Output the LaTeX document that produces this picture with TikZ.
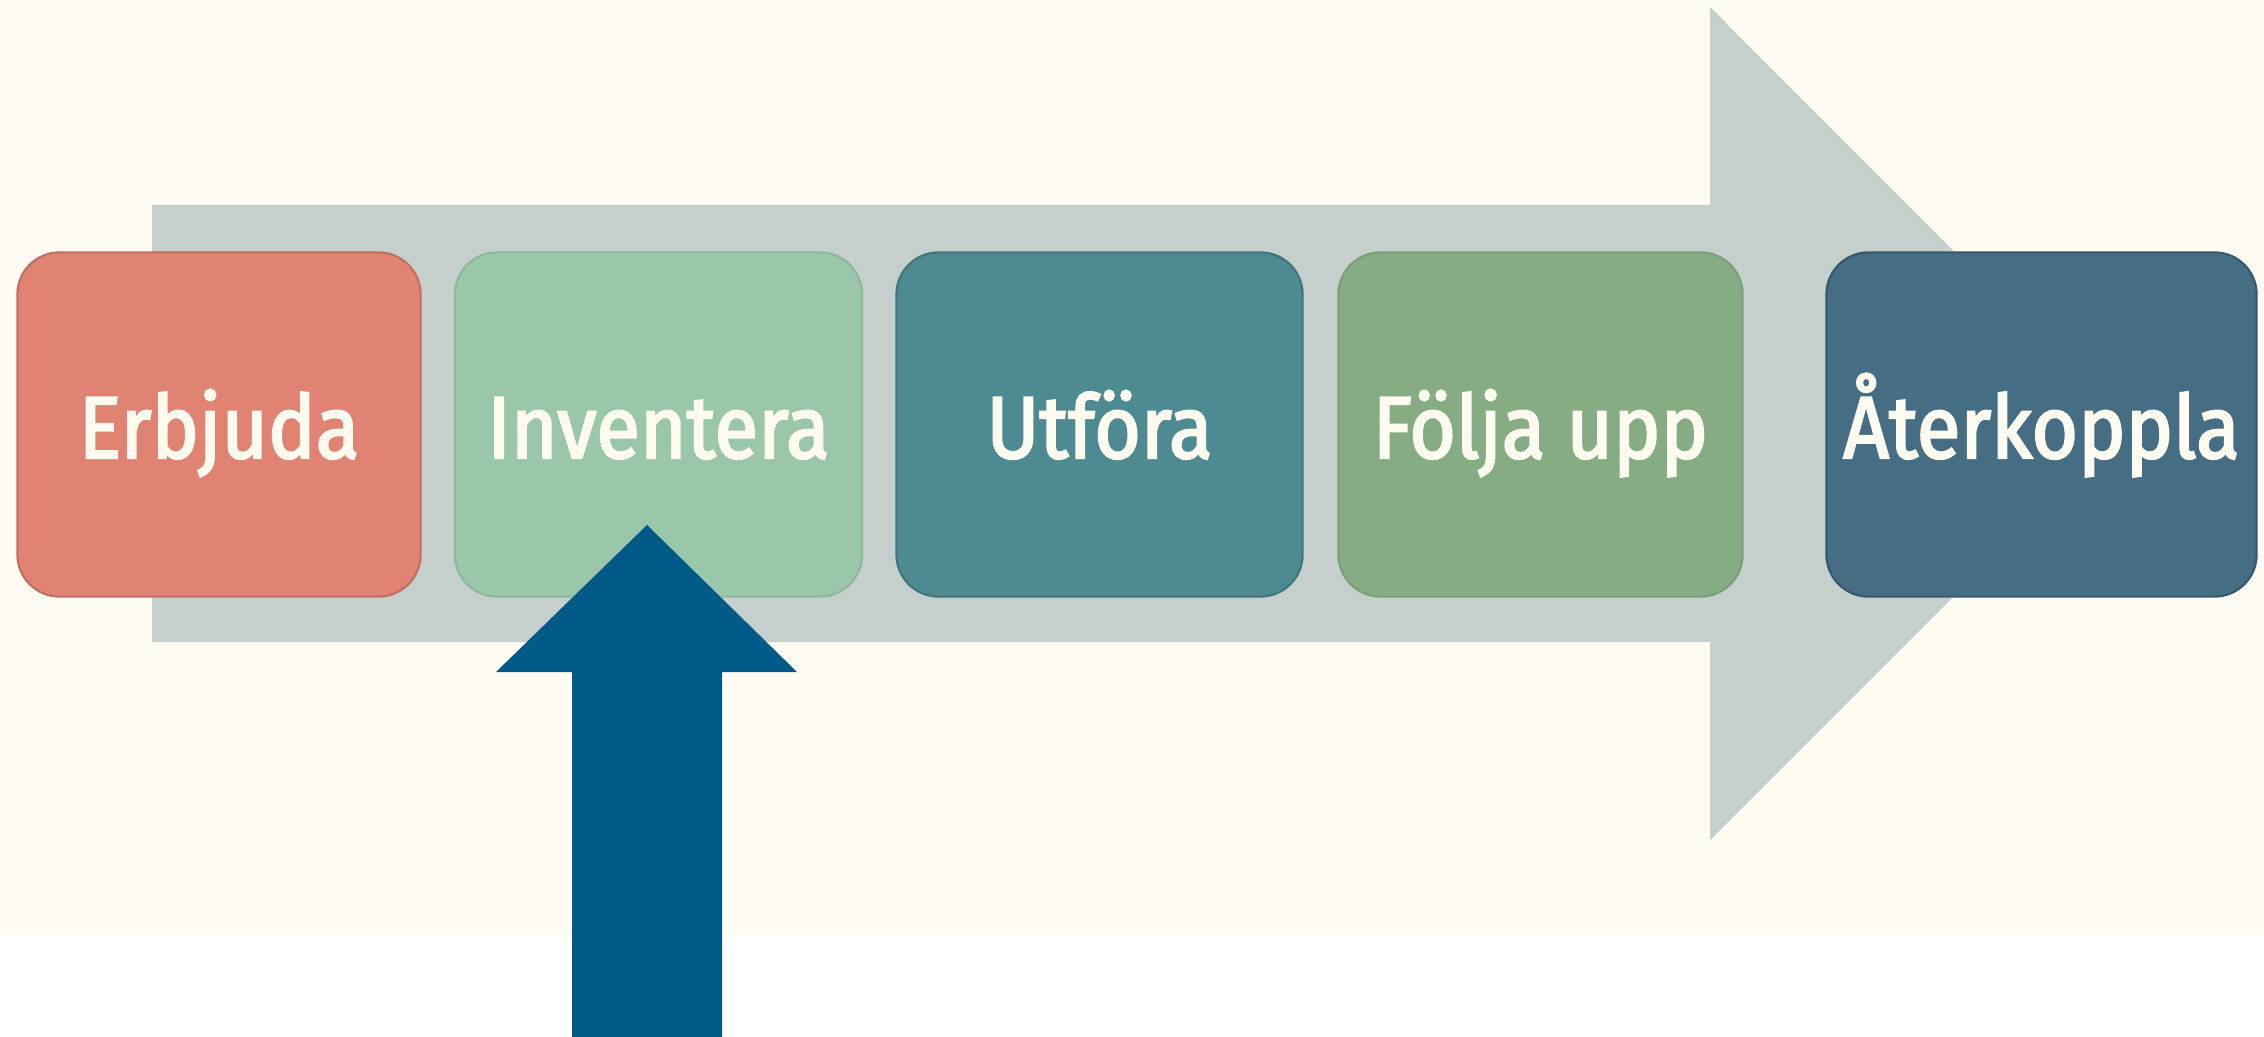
\documentclass[tikz,border=0pt]{standalone}
\usepackage{fontspec}
\setmainfont{Fira Sans}[FakeStretch=0.91,FakeBold=2.5]
\definecolor{bgcream}{HTML}{FEFCF2}
\definecolor{bandgray}{HTML}{C5D0CC}
\definecolor{cErb}{HTML}{E08373}
\definecolor{cInv}{HTML}{9AC7A9}
\definecolor{cUtf}{HTML}{4E8A91}
\definecolor{cFol}{HTML}{86AC83}
\definecolor{cAter}{HTML}{456D84}
\definecolor{arrowblue}{HTML}{005A87}
\definecolor{txtcream}{HTML}{FDFBF0}
\tikzset{
  stepbox/.style={rounded corners=0.42cm, minimum height=3.44cm, inner sep=0pt,
    text height=0.67cm, text depth=0pt,
    text=txtcream, font=\fontsize{25}{29}\selectfont, line width=0.6pt}
}
\begin{document}
\begin{tikzpicture}[x=0.01cm,y=-0.01cm]
\useasboundingbox (0,0) rectangle (2264,1037);
% background
\fill[white] (0,0) rectangle (2264,1037);
\fill[bgcream] (0,0) rectangle (2264,935);
% big gray arrow
\fill[bandgray] (152,205) -- (1710,205) -- (1710,7) -- (2126,424) -- (1710,840) -- (1710,642) -- (152,642) -- cycle;
% boxes
\node[stepbox, fill=cErb, draw=cErb!85!black, minimum width=4.03cm] (erb) at (219,424.5) {Erbjuda};
\node[stepbox, fill=cInv, draw=cInv!92!black, minimum width=4.07cm] (inv) at (658.5,424.5) {Inventera};
\node[stepbox, fill=cUtf, draw=cUtf!85!black, minimum width=4.06cm] (utf) at (1099.5,424.5) {Utföra};
\node[stepbox, fill=cFol, draw=cFol!92!black, minimum width=4.04cm] (fol) at (1540.5,424.5) {Följa upp};
\node[stepbox, fill=cAter, draw=cAter!80!black, minimum width=4.30cm] (ater) at (2041.5,424.5) {Återkoppla};
% blue arrow pointing up into Inventera
\fill[arrowblue] (647,525) -- (797,672) -- (722,672) -- (722,1037) -- (572,1037) -- (572,672) -- (496,672) -- cycle;
\end{tikzpicture}
\end{document}
